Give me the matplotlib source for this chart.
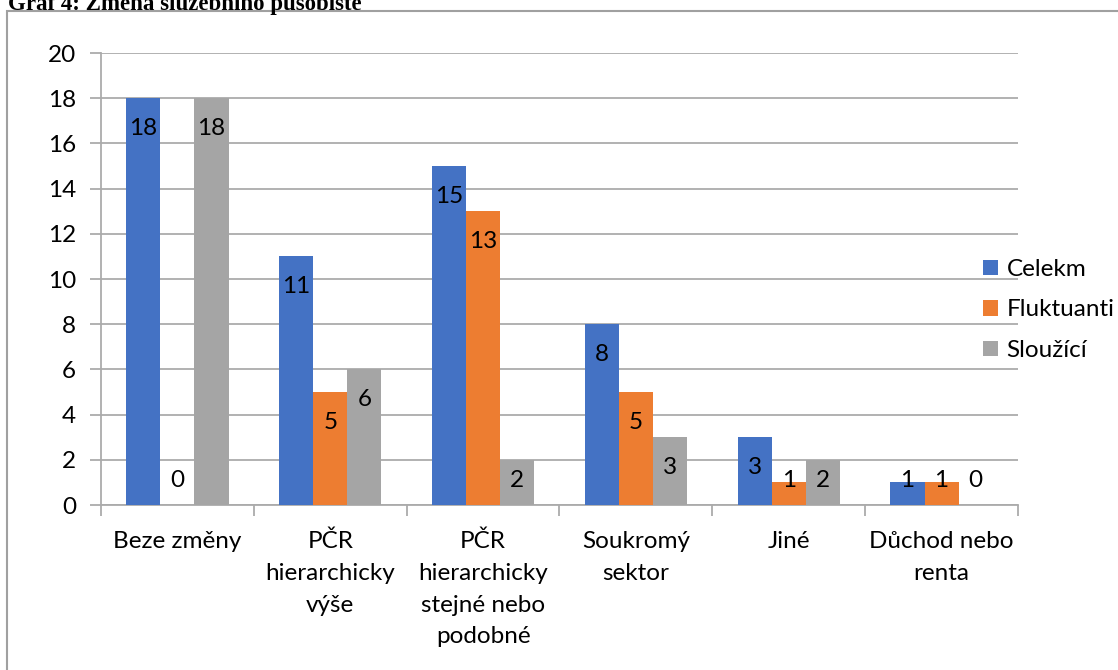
import numpy as np
import matplotlib.pyplot as plt
from matplotlib.patches import Rectangle

# Data
categories = ['Beze změny', 'PČR\nhierarchicky\nvýše', 'PČR\nhierarchicky\nstejné nebo\npodobné',
              'Soukromý\nsektor', 'Jiné', 'Důchod nebo\nrenta']
celkem = [18, 11, 15, 8, 3, 1]
fluktuanti = [0, 5, 13, 5, 1, 1]
slouzici = [18, 6, 2, 3, 2, 0]
series_names = ['Celekm', 'Fluktuanti', 'Sloužící']
colors = ['#4472C4', '#ED7D31', '#A5A5A5']

plt.rcParams['font.family'] = ['Lato', 'DejaVu Sans']
grid_col = '#ababab'
fs = 17.5

W, H = 1118, 670
fig = plt.figure(figsize=(W / 100, H / 100), dpi=100)

# Outer chart frame (cut by the page edge on the right and bottom)
fig.patches.append(Rectangle((7 / W, -0.05), 1.2, 1 - 11 / H + 0.05, transform=fig.transFigure,
                             fill=False, edgecolor='#a0a0a0', linewidth=1.5))
fig.text(8 / W, 1 - 10 / H, 'Graf 4: Změna služebního působiště', family='Liberation Serif',
         fontweight='bold', fontsize=16.5, va='baseline', ha='left')

ax = fig.add_axes([101 / W, 1 - 505 / H, (1018 - 101) / W, (505 - 53) / H])

x = np.arange(len(categories))
bw = 0.223
for i, (vals, name, col) in enumerate(zip([celkem, fluktuanti, slouzici], series_names, colors)):
    pos = x + (i - 1) * bw
    ax.bar(pos, vals, width=bw, color=col, label=name, zorder=3)
    for p, v in zip(pos, vals):
        ax.text(p, max(v - 1.33, 1.1), str(v), ha='center', va='center', fontsize=fs, zorder=4)

ax.set_xlim(-0.5, len(categories) - 0.5)
ax.set_ylim(0, 20)
ax.set_yticks(range(0, 21, 2))
ax.grid(axis='y', color=grid_col, linewidth=1.3, zorder=0)

# Category labels below the axis, boundaries marked with ticks
ax.set_xticks(np.arange(len(categories) + 1) - 0.5)
ax.set_xticklabels([])
ax.tick_params(axis='x', length=8, color=grid_col, width=1.3)
ax.tick_params(axis='y', length=8, color=grid_col, width=1.3, labelsize=fs, pad=10)
for xi, lab in zip(x, categories):
    ax.text(xi, -1.15, lab, ha='center', va='top', fontsize=fs, linespacing=1.62,
            transform=ax.transData)

for side in ['top', 'right']:
    ax.spines[side].set_visible(False)
for side in ['left', 'bottom']:
    ax.spines[side].set_color(grid_col)
    ax.spines[side].set_linewidth(1.3)

fig.legend(*ax.get_legend_handles_labels(), loc='center left',
           bbox_to_anchor=(983 / W, 1 - 310 / H), bbox_transform=fig.transFigure,
           frameon=False, fontsize=fs, borderpad=0, borderaxespad=0,
           handlelength=0.62, handleheight=0.62, handletextpad=0.35, labelspacing=0.8)

fig.savefig('out.png', dpi=100)
